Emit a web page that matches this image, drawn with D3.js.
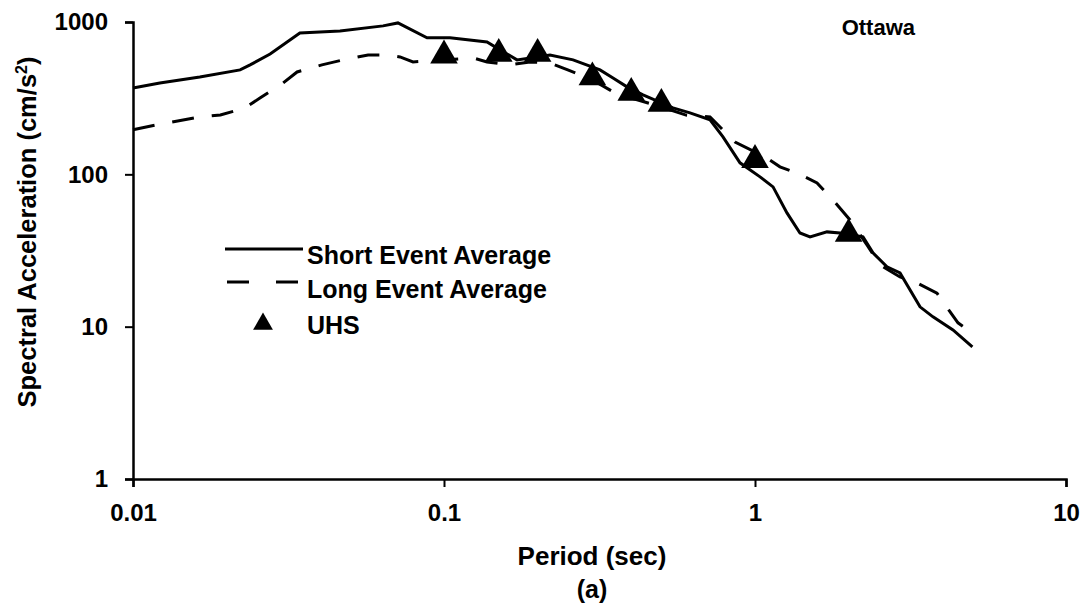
<!DOCTYPE html>
<html>
<head>
<meta charset="utf-8">
<script src="https://cdn.jsdelivr.net/npm/d3@7"></script>
<style>
  body { margin: 0; background: #fff; }
  text { font-family: "Liberation Sans", Arial, sans-serif; }
</style>
</head>
<body>
<div id="vis-container"></div>
<script>
// Chart data
const periodShort = [0.01, 0.0122, 0.0164, 0.0221, 0.0238, 0.0276, 0.0344, 0.0463, 0.0637, 0.0711, 0.0882, 0.1045, 0.1375, 0.1514, 0.1717, 0.2192, 0.26, 0.3174, 0.3495, 0.3876, 0.4364, 0.5449, 0.618, 0.7168, 0.789, 0.895, 1.038, 1.143, 1.267, 1.395, 1.503, 1.704, 1.877, 2.225, 2.395, 2.657, 2.926, 3.393, 3.735, 4.331, 5.0];
const saShort = [369, 398, 436, 485, 523, 617, 848, 874, 943, 986, 787, 787, 740, 656, 564, 608, 564, 485, 429, 375, 332, 273, 253, 228, 176, 119, 96.2, 82.7, 55.8, 41.2, 38.8, 41.9, 41.2, 38.8, 30.5, 24.7, 22.5, 13.5, 11.6, 9.51, 7.36];

const periodLong = [0.01, 0.0119, 0.0164, 0.0191, 0.0229, 0.0256, 0.0304, 0.0337, 0.0405, 0.0473, 0.057, 0.0656, 0.0722, 0.0795, 0.1, 0.124, 0.1375, 0.163, 0.189, 0.219, 0.25, 0.3, 0.35, 0.4, 0.5, 0.6, 0.7168, 0.8625, 1.093, 1.203, 1.365, 1.583, 1.781, 2.021, 2.291, 2.523, 2.926, 3.27, 3.847, 4.083, 4.495, 5.0];
const saLong = [196, 211, 238, 245, 273, 317, 398, 470, 523, 564, 608, 608, 590, 547, 564, 581, 547, 523, 547, 539, 485, 417, 348, 317, 277, 245, 238, 163, 128, 112, 102, 87.8, 67.9, 50.2, 34.4, 25.4, 21.2, 19.7, 16.6, 13.9, 10.6, 9.09];

const uhsPeriod = [0.1, 0.15, 0.2, 0.3, 0.4, 0.5, 1.0, 2.0];
const uhsSA = [641, 656, 656, 460, 364, 308, 132, 43.2];

const xTicks = [0.01, 0.1, 1, 10];
const xTickLabels = ["0.01", "0.1", "1", "10"];
const yTicks = [1, 10, 100, 1000];
const yTickLabels = ["1", "10", "100", "1000"];

const seriesNames = ["Short Event Average", "Long Event Average", "UHS"];

// Dimensions
const width = 1082;
const height = 613;
const margin = { top: 22, right: 16, bottom: 134, left: 133 };

const svg = d3.select("#vis-container")
  .append("svg")
  .attr("width", width)
  .attr("height", height)
  .attr("viewBox", [0, 0, width, height]);

// Scales
const x = d3.scaleLog()
  .domain([0.01, 10])
  .range([margin.left, width - margin.right]);

const y = d3.scaleLog()
  .domain([1, 1000])
  .range([height - margin.bottom, margin.top]);

// Axes
svg.append("g")
  .attr("transform", `translate(0,${height - margin.bottom})`)
  .call(d3.axisBottom(x)
    .tickValues(xTicks)
    .tickFormat((d, i) => xTickLabels[i])
    .tickSize(8)
    .tickPadding(17))
  .call(g => g.select(".domain").attr("stroke-width", 2.5))
  .call(g => g.selectAll(".tick line").attr("stroke-width", 2))
  .selectAll("text")
    .attr("font-size", "24px")
    .attr("font-weight", "bold")
    .attr("fill", "#000");

svg.append("g")
  .attr("transform", `translate(${margin.left},0)`)
  .call(d3.axisLeft(y)
    .tickValues(yTicks)
    .tickFormat((d, i) => yTickLabels[i])
    .tickSize(8)
    .tickPadding(17))
  .call(g => g.select(".domain").attr("stroke-width", 2.5))
  .call(g => g.selectAll(".tick line").attr("stroke-width", 2))
  .selectAll("text")
    .attr("font-size", "24px")
    .attr("font-weight", "bold")
    .attr("fill", "#000");

// Axis titles
const yTitle = svg.append("text")
  .attr("transform", `translate(36,${232}) rotate(-90)`)
  .attr("text-anchor", "middle")
  .attr("font-size", "25.5px")
  .attr("font-weight", "bold")
  .text("Spectral Acceleration (cm/s");
yTitle.append("tspan").attr("dy", -9).attr("font-size", "16px").text("2");
yTitle.append("tspan").attr("dy", 9).text(")");

svg.append("text")
  .attr("x", 592)
  .attr("y", 565)
  .attr("text-anchor", "middle")
  .attr("font-size", "26px")
  .attr("font-weight", "bold")
  .text("Period (sec)");

svg.append("text")
  .attr("x", 592)
  .attr("y", 598)
  .attr("text-anchor", "middle")
  .attr("font-size", "25px")
  .attr("font-weight", "bold")
  .text("(a)");

svg.append("text")
  .attr("x", 915)
  .attr("y", 35)
  .attr("text-anchor", "end")
  .attr("font-size", "22px")
  .attr("font-weight", "bold")
  .text("Ottawa");

// Lines
const line = d3.line()
  .x(d => x(d[0]))
  .y(d => y(d[1]));

svg.append("path")
  .datum(d3.zip(periodShort, saShort))
  .attr("fill", "none")
  .attr("stroke", "#000")
  .attr("stroke-width", 3)
  .attr("d", line);

svg.append("path")
  .datum(d3.zip(periodLong, saLong))
  .attr("fill", "none")
  .attr("stroke", "#000")
  .attr("stroke-width", 3)
  .attr("stroke-dasharray", "22,18")
  .attr("d", line);

// UHS triangles (shift so the box centre sits on the value)
const tri = d3.symbol().type(d3.symbolTriangle).size(330);
const triOff = Math.sqrt(330 / (Math.sqrt(3) * 3)) / 2;

svg.selectAll(".uhs")
  .data(d3.zip(uhsPeriod, uhsSA))
  .enter()
  .append("path")
    .attr("class", "uhs")
    .attr("d", tri)
    .attr("fill", "#000")
    .attr("transform", d => `translate(${x(d[0])},${y(d[1]) + triOff})`);

// Legend
const legend = svg.append("g");

legend.append("line")
  .attr("x1", 225).attr("x2", 303)
  .attr("y1", 249).attr("y2", 249)
  .attr("stroke", "#000").attr("stroke-width", 3);

legend.append("line")
  .attr("x1", 227).attr("x2", 303)
  .attr("y1", 282).attr("y2", 282)
  .attr("stroke", "#000").attr("stroke-width", 3)
  .attr("stroke-dasharray", "22,27");

legend.append("path")
  .attr("d", d3.symbol().type(d3.symbolTriangle).size(170))
  .attr("transform", "translate(263,324)");

legend.selectAll(".legend-label")
  .data(seriesNames)
  .enter()
  .append("text")
    .attr("class", "legend-label")
    .attr("x", 307)
    .attr("y", (d, i) => [264, 298, 334][i])
    .attr("font-size", "25px")
    .attr("font-weight", "bold")
    .text(d => d);
</script>
</body>
</html>
